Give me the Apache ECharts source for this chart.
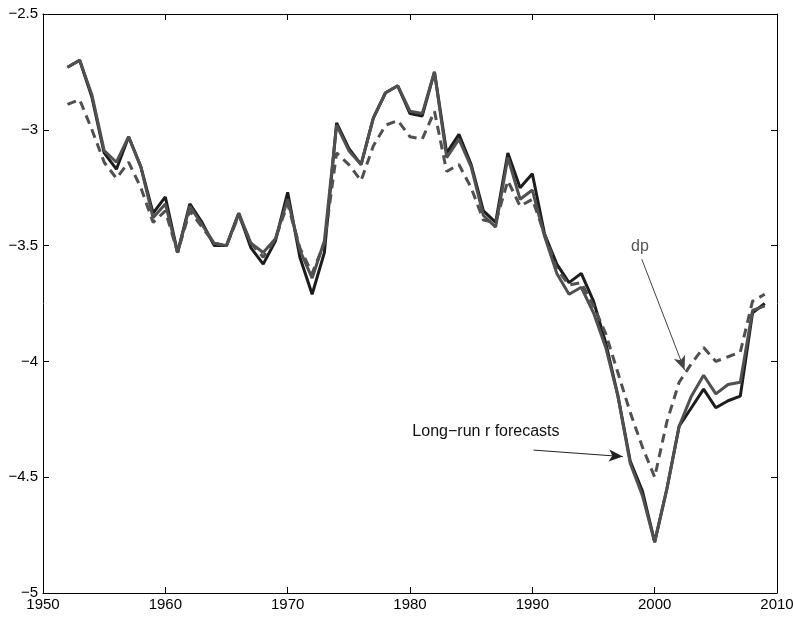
<!DOCTYPE html>
<html>
<head>
<meta charset="utf-8">
<script src="https://cdn.jsdelivr.net/npm/echarts@6/dist/echarts.min.js"></script>
<style>
html,body{margin:0;padding:0;background:#fff;}
#c{width:793px;height:619px;}
</style>
</head>
<body>
<div id="c"></div>
<script>
var years = [];
for (var y = 1952; y <= 2009; y++) years.push(y);

var forecastA = [-2.73,-2.70,-2.86,-3.10,-3.17,-3.03,-3.16,-3.36,-3.29,-3.53,
  -3.32,-3.40,-3.50,-3.50,-3.36,-3.51,-3.58,-3.48,-3.27,-3.55,
  -3.71,-3.53,-2.97,-3.08,-3.15,-2.95,-2.84,-2.81,-2.93,-2.94,
  -2.75,-3.10,-3.02,-3.15,-3.35,-3.40,-3.10,-3.25,-3.19,-3.45,
  -3.58,-3.66,-3.62,-3.74,-3.92,-4.15,-4.43,-4.56,-4.78,-4.55,
  -4.28,-4.20,-4.12,-4.20,-4.17,-4.15,-3.79,-3.75];

var forecastB = [-2.73,-2.70,-2.85,-3.09,-3.14,-3.03,-3.16,-3.38,-3.32,-3.53,
  -3.33,-3.41,-3.49,-3.50,-3.36,-3.49,-3.53,-3.47,-3.30,-3.52,
  -3.64,-3.48,-2.98,-3.09,-3.15,-2.95,-2.84,-2.81,-2.92,-2.93,
  -2.75,-3.12,-3.04,-3.16,-3.37,-3.42,-3.12,-3.30,-3.26,-3.46,
  -3.62,-3.71,-3.68,-3.79,-3.94,-4.15,-4.44,-4.58,-4.78,-4.55,
  -4.28,-4.15,-4.06,-4.14,-4.10,-4.09,-3.78,-3.76];

var dp = [-2.89,-2.87,-3.00,-3.14,-3.21,-3.14,-3.25,-3.40,-3.35,-3.53,
  -3.35,-3.42,-3.49,-3.50,-3.37,-3.49,-3.55,-3.47,-3.32,-3.51,
  -3.62,-3.49,-3.10,-3.15,-3.22,-3.07,-2.98,-2.96,-3.03,-3.04,
  -2.92,-3.18,-3.15,-3.25,-3.39,-3.40,-3.22,-3.33,-3.30,-3.45,
  -3.60,-3.67,-3.66,-3.76,-3.88,-4.05,-4.22,-4.37,-4.50,-4.26,
  -4.09,-4.01,-3.94,-4.00,-3.98,-3.96,-3.74,-3.71];

var xTicks = [1950, 2010, 10];
var yTicks = [-5, -2.5, 0.5];

function pairs(vals){ return years.map(function(yr,i){ return [yr, vals[i]]; }); }
function fmtY(v){ return String(v).replace('-', '\u2212'); }
function fmtX(v){ return String(v); }

var FONT = 'Liberation Sans, Arial, Helvetica, sans-serif';

var chart = echarts.init(document.getElementById('c'), null, {renderer:'canvas'});
var axisCommon = {
  type: 'value',
  axisLine: {show: true, onZero: false, lineStyle: {color: '#000', width: 1}},
  axisTick: {show: true, inside: true, length: 6, lineStyle: {color: '#000', width: 1}},
  splitLine: {show: false}
};
chart.setOption({
  animation: false,
  backgroundColor: '#fff',
  grid: {left: 43, right: 16, top: 14, bottom: 26, containLabel: false, outerBoundsMode: 'none'},
  xAxis: [
    Object.assign({}, axisCommon, {
      min: xTicks[0], max: xTicks[1], interval: xTicks[2], position: 'bottom',
      axisLabel: {show: true, color: '#000', fontSize: 15, fontFamily: FONT, margin: 4, formatter: fmtX}
    }),
    Object.assign({}, axisCommon, {
      min: xTicks[0], max: xTicks[1], interval: xTicks[2], position: 'top',
      axisLabel: {show: false}
    })
  ],
  yAxis: [
    Object.assign({}, axisCommon, {
      min: yTicks[0], max: yTicks[1], interval: yTicks[2], position: 'left',
      axisLabel: {show: true, color: '#000', fontSize: 15, fontFamily: FONT, margin: 5, formatter: fmtY}
    }),
    Object.assign({}, axisCommon, {
      min: yTicks[0], max: yTicks[1], interval: yTicks[2], position: 'right',
      axisLabel: {show: false}
    })
  ],
  series: [
    {
      name: 'forecastA', type: 'line', data: pairs(forecastA), showSymbol: false, symbol: 'none',
      lineStyle: {color: '#1c1c1c', width: 3}, z: 2
    },
    {
      name: 'forecastB', type: 'line', data: pairs(forecastB), showSymbol: false, symbol: 'none',
      lineStyle: {color: '#505050', width: 3}, z: 3,
      markLine: {
        silent: true, symbol: ['none', 'arrow'], symbolSize: [9, 14],
        label: {show: false},
        lineStyle: {color: '#222', width: 1, type: 'solid'},
        data: [[{coord: [1990.1, -4.383]}, {coord: [1997.4, -4.411]}]]
      },
      markPoint: {
        silent: true, symbol: 'circle', symbolSize: 1,
        itemStyle: {color: 'rgba(0,0,0,0)'},
        label: {show: true, position: 'inside', color: '#111', fontSize: 16, fontFamily: FONT},
        data: [{coord: [1986.21, -4.3035], value: 'Long\u2212run r forecasts',
                label: {formatter: 'Long\u2212run r forecasts'}}]
      }
    },
    {
      name: 'dp', type: 'line', data: pairs(dp), showSymbol: false, symbol: 'none',
      lineStyle: {color: '#505050', width: 3, type: [9, 6]}, z: 4,
      markLine: {
        silent: true, symbol: ['none', 'arrow'], symbolSize: [9, 14],
        label: {show: false},
        lineStyle: {color: '#444', width: 1, type: 'solid'},
        data: [[{coord: [1998.95, -3.559]}, {coord: [2002.44, -4.037]}]]
      },
      markPoint: {
        silent: true, symbol: 'circle', symbolSize: 1,
        itemStyle: {color: 'rgba(0,0,0,0)'},
        label: {show: true, position: 'inside', color: '#555', fontSize: 16, fontFamily: FONT},
        data: [{coord: [1998.8, -3.506], value: 'dp', label: {formatter: 'dp'}}]
      }
    }
  ]
});
</script>
</body>
</html>
